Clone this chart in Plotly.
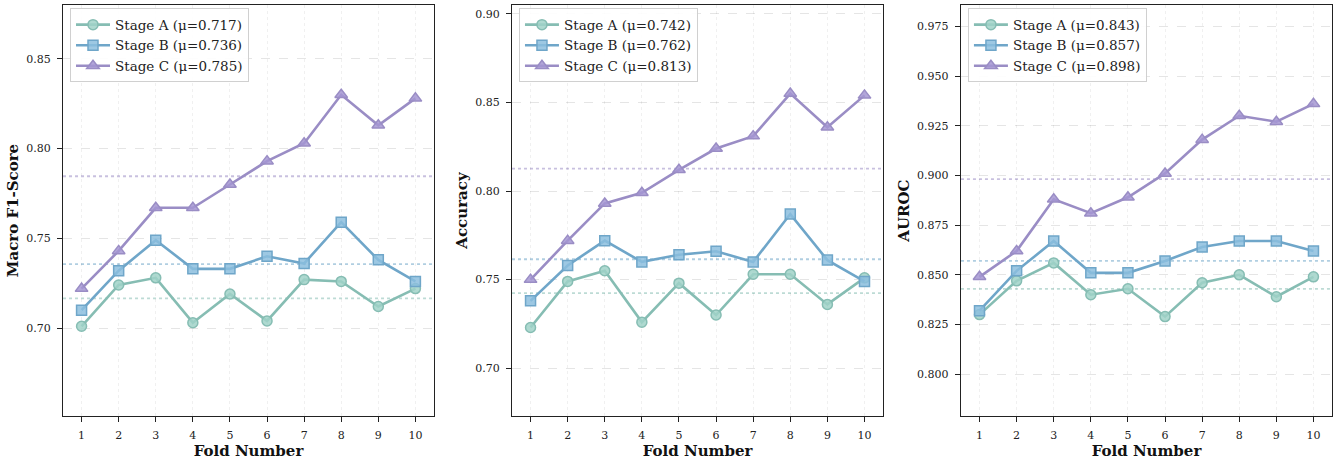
import numpy as np
import plotly.graph_objects as go

folds = list(range(1, 11))

f1_a = [0.701, 0.724, 0.728, 0.703, 0.719, 0.704, 0.727, 0.726, 0.712, 0.722]
f1_b = [0.710, 0.732, 0.749, 0.733, 0.733, 0.740, 0.736, 0.759, 0.738, 0.726]
f1_c = [0.722, 0.743, 0.767, 0.767, 0.780, 0.793, 0.803, 0.830, 0.813, 0.828]

acc_a = [0.723, 0.749, 0.755, 0.726, 0.748, 0.730, 0.753, 0.753, 0.736, 0.751]
acc_b = [0.738, 0.758, 0.772, 0.760, 0.764, 0.766, 0.760, 0.787, 0.761, 0.749]
acc_c = [0.750, 0.772, 0.793, 0.799, 0.812, 0.824, 0.831, 0.855, 0.836, 0.854]

auc_a = [0.830, 0.847, 0.856, 0.840, 0.843, 0.829, 0.846, 0.850, 0.839, 0.849]
auc_b = [0.832, 0.852, 0.867, 0.851, 0.851, 0.857, 0.864, 0.867, 0.867, 0.862]
auc_c = [0.849, 0.862, 0.888, 0.881, 0.889, 0.901, 0.918, 0.930, 0.927, 0.936]

stage_names = ["Stage A", "Stage B", "Stage C"]
metric_titles = ["Macro F1-Score", "Accuracy", "AUROC"]
panels = [[f1_a, f1_b, f1_c], [acc_a, acc_b, acc_c], [auc_a, auc_b, auc_c]]
y_ranges = [[0.651, 0.880], [0.673, 0.905], [0.779, 0.9857]]
y_dticks = [0.05, 0.05, 0.025]
y_formats = [".2f", ".2f", ".3f"]

line_colors = ["#86bdb3", "#6fa6c9", "#9a8dc5"]
fill_colors = ["rgba(160,210,200,0.85)", "rgba(140,190,222,0.85)", "rgba(165,150,210,0.85)"]
mean_colors = ["rgba(134,189,179,0.55)", "rgba(111,166,201,0.55)", "rgba(154,141,197,0.55)"]
symbols = ["circle", "square", "triangle-up"]

x_domains = [[0.0470, 0.3236], [0.3818, 0.6585], [0.7166, 0.9933]]
y_domain = [0.1034, 0.9892]
legend_x = [0.0522, 0.3870, 0.7218]

FONT = "DejaVu Serif, serif"

fig = go.Figure()
layout = dict(
    width=1341, height=464,
    margin=dict(l=0, r=0, t=0, b=0),
    paper_bgcolor="white", plot_bgcolor="white",
    font=dict(family=FONT, color="#222"),
)

for p in range(3):
    sfx = "" if p == 0 else str(p + 1)
    xref = "x" + sfx
    yref = "y" + sfx
    legname = "legend" + sfx
    for s in range(3):
        vals = panels[p][s]
        mu = float(np.mean(vals))
        fig.add_trace(go.Scatter(
            x=folds, y=vals, mode="lines+markers",
            name=f"{stage_names[s]} (μ={mu:.3f})",
            line=dict(color=line_colors[s], width=2.6),
            marker=dict(symbol=symbols[s], size=10 if s < 2 else 11,
                        color=fill_colors[s],
                        line=dict(color=line_colors[s], width=1.5)),
            xaxis=xref, yaxis=yref, legend=legname,
        ))
        fig.add_shape(type="line", xref=xref + " domain", yref=yref,
                      x0=0, x1=1, y0=mu, y1=mu,
                      line=dict(color=mean_colors[s], width=1.8, dash="dot"),
                      layer="below")
    layout["xaxis" + sfx] = dict(
        domain=x_domains[p], anchor=yref, range=[0.5, 10.5],
        tickmode="array", tickvals=folds, ticktext=[str(f) for f in folds],
        ticks="outside", ticklen=5, tickcolor="#222", ticklabelstandoff=4,
        showline=True, linecolor="#222", linewidth=1.3, mirror=True,
        showgrid=True, gridcolor="rgba(0,0,0,0.06)", griddash="dot", gridwidth=1,
        zeroline=False,
        tickfont=dict(family=FONT, size=11, color="#222"),
        title=dict(text="<b>Fold Number</b>", font=dict(family=FONT, size=15, color="#111"), standoff=4),
        automargin=False,
    )
    layout["yaxis" + sfx] = dict(
        domain=y_domain, anchor=xref, range=y_ranges[p],
        dtick=y_dticks[p], tick0=0, tickformat=y_formats[p],
        ticks="outside", ticklen=5, tickcolor="#222", ticklabelstandoff=4,
        showline=True, linecolor="#222", linewidth=1.3, mirror=True,
        showgrid=True, gridcolor="rgba(0,0,0,0.10)", griddash="dash", gridwidth=1,
        zeroline=False,
        tickfont=dict(family=FONT, size=11, color="#222"),
        title=dict(text="<b>" + metric_titles[p] + "</b>", font=dict(family=FONT, size=15, color="#111"), standoff=3),
        automargin=False,
    )
    layout[legname] = dict(
        x=legend_x[p], y=0.982, xanchor="left", yanchor="top",
        bgcolor="rgba(255,255,255,0.9)", bordercolor="#d0d0d0", borderwidth=1,
        font=dict(family=FONT, size=13.5, color="#222"),
        tracegroupgap=0, itemwidth=34,
    )

fig.update_layout(**layout)
fig.write_html("out.html", config={"displayModeBar": False},
               post_script="document.body.style.margin='0';")
